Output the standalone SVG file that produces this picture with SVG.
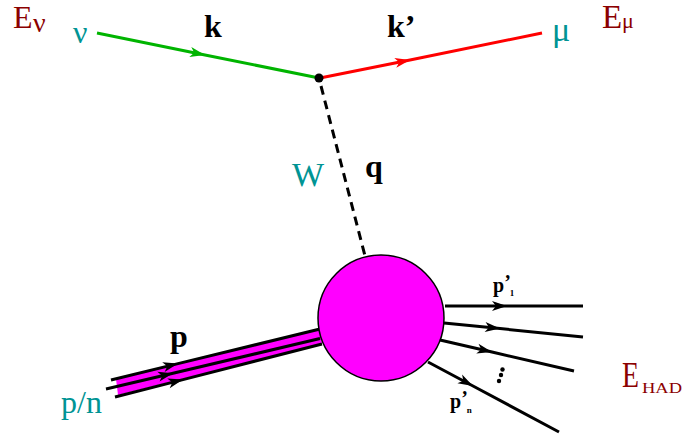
<svg xmlns="http://www.w3.org/2000/svg" width="682" height="436" viewBox="0 0 682 436">
<style>
.lbl{font-family:"Liberation Serif","Times New Roman",serif;font-weight:bold;fill:#000}
.teal{font-family:"Liberation Serif","Times New Roman",serif;fill:#009494}
.dred{font-family:"Liberation Serif","Times New Roman",serif;fill:#8b0000}
.line{fill:none;stroke-width:3;stroke-linecap:butt}
.blk{stroke:#000;marker-mid:url(#ab)}
</style>
<defs>
<marker id="ab" markerUnits="userSpaceOnUse" markerWidth="16" markerHeight="10" refX="15" refY="5" orient="auto" overflow="visible">
<path d="M0,0 L15,5 L0,10 L4,5 z" fill="#000"/>
</marker>
<marker id="ag" markerUnits="userSpaceOnUse" markerWidth="16" markerHeight="10" refX="15" refY="5" orient="auto" overflow="visible">
<path d="M0,0 L15,5 L0,10 L4,5 z" fill="#00b400"/>
</marker>
<marker id="ar" markerUnits="userSpaceOnUse" markerWidth="16" markerHeight="10" refX="15" refY="5" orient="auto" overflow="visible">
<path d="M0,0 L15,5 L0,10 L4,5 z" fill="#ff0000"/>
</marker>
</defs>

<g id="connectors">
<path id="nu-line" class="line" stroke="#00b400" marker-mid="url(#ag)" d="M97,33 L205,55 L319,78"/>
<path id="mu-line" class="line" stroke="#ff0000" marker-mid="url(#ar)" d="M320,78 L410,60 L542,33"/>
<path id="w-line" class="line" stroke="#000" stroke-dasharray="9 6" d="M321,86 L365,256"/>
<polygon id="beam-fill" points="116,379 320,329 322,344 118,395" fill="#ff00ff"/>
<path class="line blk" d="M111,380 L178,363.6 L320,329"/>
<path class="line blk" d="M106,389 L173,373.3 L320,338.5"/>
<path class="line blk" d="M115,397 L183,379.6 L322,344"/>
<path class="line blk" d="M445,306 L507,306 L583,306"/>
<path class="line blk" d="M444,323 L500,328.6 L583,337"/>
<path class="line blk" d="M440,340 L492,352 L574,371"/>
<path class="line blk" d="M428,362 L473,386 L559,432"/>
</g>

<g id="vertex"><circle cx="319" cy="78" r="4.5" fill="#000"/></g>

<g id="blob"><circle cx="381" cy="318" r="63" fill="#ff00ff" stroke="#000" stroke-width="1.5"/></g>

<g id="dots" fill="#000">
<circle cx="502.5" cy="369.5" r="2.2"/>
<circle cx="501" cy="375" r="2.2"/>
<circle cx="499" cy="381" r="2.2"/>
</g>

<g id="labels">
<text class="dred" x="13" y="28" font-size="32">E</text>
<text class="dred" x="33" y="32" font-size="28">ν</text>
<text class="teal" x="73" y="43" font-size="32">ν</text>
<text class="lbl" x="204" y="37" font-size="32">k</text>
<text class="lbl" x="387" y="37" font-size="32">k’</text>
<text class="teal" x="552" y="41" font-size="34">μ</text>
<text class="dred" x="602" y="28" font-size="33">E</text>
<text class="dred" x="622" y="28" font-size="22">μ</text>
<text class="teal" x="292" y="186" font-size="34">W</text>
<text class="lbl" x="365" y="177" font-size="32">q</text>
<text class="lbl" x="170" y="347" font-size="32">p</text>
<text class="teal" x="61" y="413" font-size="32">p/n</text>
<text class="lbl" x="493" y="292" font-size="20">p<tspan dy="-3">’</tspan><tspan font-size="9" dx="-1" dy="7">1</tspan></text>
<text class="lbl" x="450" y="408" font-size="20">p<tspan dy="-3">’</tspan><tspan font-size="9" dx="-1" dy="8">n</tspan></text>
<text class="dred" x="622" y="387" font-size="36" textLength="17" lengthAdjust="spacingAndGlyphs">E</text>
<text class="dred" x="642" y="393" font-size="15" textLength="40" lengthAdjust="spacingAndGlyphs">HAD</text>
</g>
</svg>
